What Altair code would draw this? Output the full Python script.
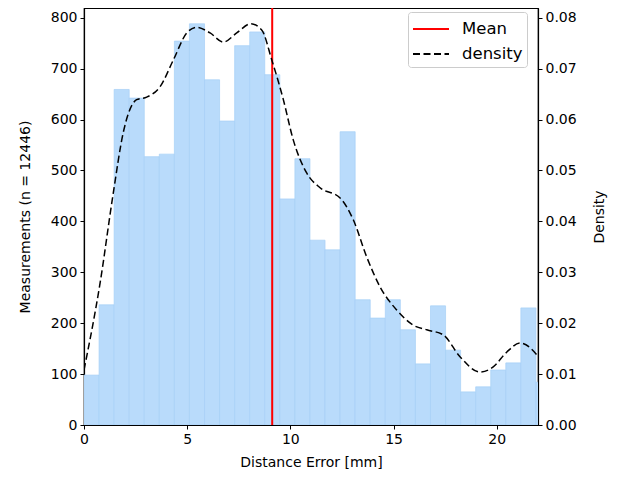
import altair as alt
import pandas as pd

# ---- data ----
bin_width = 0.73
counts = [98, 236, 659, 642, 527, 532, 754, 788, 678, 597, 745, 772, 688, 444,
          523, 363, 344, 576, 246, 210, 246, 187, 120, 234, 147, 65, 75, 108,
          122, 230, 84]
dens_x = [0.0, 0.78, 1.42, 1.90, 2.55, 3.04, 3.68, 4.33, 4.98, 5.46, 6.11, 6.75,
          7.40, 8.08, 8.61, 9.10, 9.66, 10.14, 10.79, 11.44, 12.41, 13.05, 13.70,
          14.35, 15.15, 15.96, 16.61, 17.41, 18.22, 19.19, 19.83, 20.48, 21.13,
          21.94, 22.0]
dens_y = [0.0108, 0.0279, 0.0456, 0.0574, 0.0639, 0.0644, 0.0664, 0.0717, 0.0770,
          0.0781, 0.0770, 0.0752, 0.0770, 0.0788, 0.0776, 0.0717, 0.0639, 0.0560,
          0.0495, 0.0466, 0.0446, 0.0403, 0.0330, 0.0271, 0.0226, 0.0196, 0.0187,
          0.0177, 0.0134, 0.0104, 0.0114, 0.0143, 0.0161, 0.0138, 0.0135]
mean_val = 9.12
series_names = ["Mean", "density"]
left_ticks = [0, 100, 200, 300, 400, 500, 600, 700, 800]
right_ticks = [0.0, 0.01, 0.02, 0.03, 0.04, 0.05, 0.06, 0.07, 0.08]
x_ticks = [0, 5, 10, 15, 20]

bins = pd.DataFrame({"start": [i * bin_width for i in range(len(counts))],
                     "count": counts})
bins["end"] = bins["start"] + bin_width
bins["base"] = 0
dens = pd.DataFrame({"x": dens_x, "d": dens_y, "series": "density"})
mean_df = pd.DataFrame({"mean": [mean_val], "series": ["Mean"]})

FONT = "DejaVu Sans"
xscale = alt.Scale(domain=[0, 22], nice=False, zero=False)
xaxis = alt.Axis(values=x_ticks, title="Distance Error [mm]", format="d", titlePadding=9)

legend = alt.Legend(title=None, orient="none", legendX=324, legendY=4,
                    symbolType="M-1,0H2", symbolSize=576, symbolStrokeWidth=2,
                    fillColor="white", strokeColor="#cccccc", cornerRadius=3,
                    padding=4, labelFontSize=16.5, labelFont=FONT, rowPadding=3,
                    labelOffset=24, labelColor="black")
color = alt.Color("series:N", scale=alt.Scale(domain=series_names, range=["red", "black"]),
                  legend=legend)
dash = alt.StrokeDash("series:N", scale=alt.Scale(domain=series_names, range=[[1, 0], [7, 3.5]]),
                      legend=legend)

bars = alt.Chart(bins).mark_bar(fill="#b9dbfb", stroke="#a6d0f7", strokeWidth=0.7,
                                clip=True).encode(
    x=alt.X("start:Q", scale=xscale, axis=xaxis),
    x2="end:Q",
    y=alt.Y("count:Q", scale=alt.Scale(domain=[0, 819], nice=False),
            axis=alt.Axis(values=left_ticks, title="Measurements (n = 12446)",
                          titlePadding=18)),
    y2="base:Q",
)

rule = alt.Chart(mean_df).mark_rule(strokeWidth=2).encode(
    x=alt.X("mean:Q", scale=xscale, axis=xaxis),
    color=color,
    strokeDash=dash,
)

line = alt.Chart(dens).mark_line(strokeWidth=1.5, interpolate="monotone", clip=True).encode(
    x=alt.X("x:Q", scale=xscale, axis=xaxis),
    y=alt.Y("d:Q", scale=alt.Scale(domain=[0, 0.0819], nice=False),
            axis=alt.Axis(orient="right", values=right_ticks, format=".2f", title="Density",
                          titleAngle=270, titleBaseline="top", titlePadding=16)),
    color=color,
    strokeDash=dash,
)

chart = alt.layer(bars, rule, line).resolve_scale(y="independent").properties(
    width=454, height=417,
    autosize=alt.AutoSizeParams(type="none"),
    padding={"left": 76, "top": 0, "right": 80, "bottom": 50},
).configure_view(stroke="black", strokeWidth=1.2).configure_axis(
    grid=False, domainColor="black", domainWidth=1.2, tickColor="black",
    tickSize=4, tickWidth=1, labelFont=FONT, titleFont=FONT, labelFontSize=14,
    titleFontSize=14, titleFontWeight="normal", labelColor="black", titleColor="black",
    labelPadding=3, labelFlush=False,
)

chart.save("out.html", embed_options={"renderer": "svg", "actions": False})
